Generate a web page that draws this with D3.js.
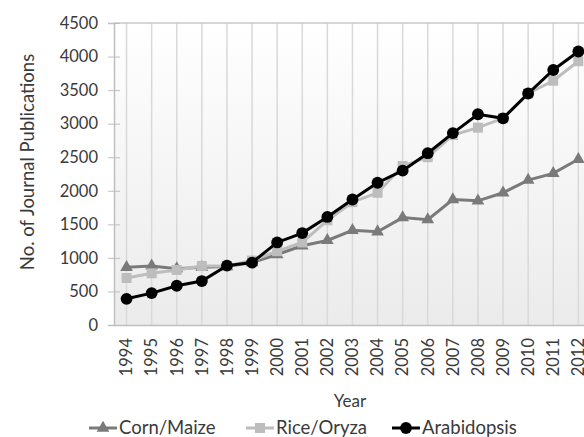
<!DOCTYPE html>
<html>
<head>
<meta charset="utf-8">
<script src="https://cdn.jsdelivr.net/npm/d3@7"></script>
<style>
  body { margin: 0; background: #fff; }
  text { font-family: Lato, "Open Sans", sans-serif; fill: #3a3a3a; }
</style>
</head>
<body>
<div id="chart"></div>
<script>
// values
var years = ["1994","1995","1996","1997","1998","1999","2000","2001","2002","2003",
             "2004","2005","2006","2007","2008","2009","2010","2011","2012"];
var corn = [860, 880, 840, 860, 870, 930, 1050, 1180, 1260, 1410, 1390, 1600, 1570, 1870, 1850, 1970, 2160, 2260, 2470];
var rice = [700, 770, 820, 880, 880, 960, 1100, 1230, 1560, 1830, 1970, 2370, 2500, 2830, 2940, 3080, 3450, 3640, 3930];
var arab = [390, 475, 585, 655, 885, 930, 1230, 1370, 1610, 1870, 2120, 2300, 2560, 2860, 3140, 3080, 3450, 3800, 4075];
var yTicks = [0, 500, 1000, 1500, 2000, 2500, 3000, 3500, 4000, 4500];

var width = 584, height = 437;
var margin = { left: 114, top: 23, bottom: 112 };
var plotH = height - margin.top - margin.bottom;
var step = 25.1;

var svg = d3.select("#chart").append("svg")
    .attr("width", width)
    .attr("height", height);

var x = d3.scaleBand()
    .domain(years)
    .range([margin.left, margin.left + step * years.length]);

var y = d3.scaleLinear()
    .domain([0, 4500])
    .range([margin.top + plotH, margin.top]);

// plot background gradient
var grad = svg.append("defs").append("linearGradient")
    .attr("id", "bg").attr("x1", 0).attr("y1", 0).attr("x2", 0).attr("y2", 1);
grad.append("stop").attr("offset", "0%").attr("stop-color", "#ffffff");
grad.append("stop").attr("offset", "100%").attr("stop-color", "#ebebeb");

svg.append("rect")
    .attr("x", margin.left)
    .attr("y", y(4500))
    .attr("width", width - margin.left)
    .attr("height", y(0) - y(4500))
    .attr("fill", "url(#bg)");

// vertical lines at each year
svg.selectAll(".vline")
    .data(years)
  .enter().append("line")
    .attr("x1", function(d) { return x(d) + x.bandwidth() / 2; })
    .attr("x2", function(d) { return x(d) + x.bandwidth() / 2; })
    .attr("y1", y(4500))
    .attr("y2", y(0))
    .attr("stroke", "#d9d9d9")
    .attr("stroke-width", 1.5);

// top line
svg.append("line")
    .attr("x1", margin.left).attr("x2", width)
    .attr("y1", y(4500)).attr("y2", y(4500))
    .attr("stroke", "#c8c8c8").attr("stroke-width", 1.5);

// y axis
var yAxis = svg.append("g")
    .attr("transform", "translate(" + margin.left + ",0)")
    .call(d3.axisLeft(y).tickValues(yTicks).tickFormat(d3.format("d")).tickSize(6).tickPadding(10));
yAxis.select(".domain").attr("stroke", "#bfbfbf").attr("stroke-width", 1.5);
yAxis.selectAll(".tick line").attr("stroke", "#bfbfbf").attr("x2", 6).attr("x1", -6);
yAxis.selectAll(".tick text")
    .style("font-size", "16.5px")
    .style("font-family", "Lato, sans-serif")
    .attr("fill", "#3a3a3a");

// x axis
var xAxis = svg.append("g")
    .attr("transform", "translate(0," + y(0) + ")")
    .call(d3.axisBottom(x).tickSize(0).tickPadding(0));
xAxis.select(".domain").attr("stroke", "#bfbfbf").attr("stroke-width", 1.5);
xAxis.selectAll(".tick text")
    .attr("transform", "rotate(-90)")
    .attr("x", -13)
    .attr("y", 0)
    .attr("dy", "0.35em")
    .style("text-anchor", "end")
    .style("font-size", "16.5px")
    .style("font-family", "Lato, sans-serif")
    .attr("fill", "#3a3a3a");

// axis titles
svg.append("text")
    .attr("transform", "translate(28,162) rotate(-90)")
    .attr("text-anchor", "middle")
    .attr("dy", "0.35em")
    .style("font-size", "18.5px")
    .text("No. of Journal Publications");

svg.append("text")
    .attr("x", 350)
    .attr("y", 407)
    .attr("text-anchor", "middle")
    .style("font-size", "17px")
    .text("Year");

var series = [
  { name: "Corn/Maize", values: corn, color: "#7a7a7a", shape: d3.symbolTriangle, size: 70 },
  { name: "Rice/Oryza", values: rice, color: "#bdbdbd", shape: d3.symbolSquare, size: 100 },
  { name: "Arabidopsis", values: arab, color: "#000000", shape: d3.symbolCircle, size: 110 }
];

var line = d3.line()
    .x(function(d, i) { return x(years[i]) + x.bandwidth() / 2; })
    .y(function(d) { return y(d); });

series.forEach(function(s) {
  svg.append("path")
      .datum(s.values)
      .attr("fill", "none")
      .attr("stroke", s.color)
      .attr("stroke-width", 3)
      .attr("d", line);

  svg.selectAll(".pt-" + s.name.replace("/", ""))
      .data(s.values)
    .enter().append("path")
      .attr("transform", function(d, i) {
        return "translate(" + (x(years[i]) + x.bandwidth() / 2) + "," + y(d) + ")";
      })
      .attr("d", d3.symbol().type(s.shape).size(s.size))
      .attr("fill", s.color);
});

// legend
var legendX = [89, 246, 392];
var legend = svg.selectAll(".legend")
    .data(series)
  .enter().append("g")
    .attr("transform", function(d, i) { return "translate(" + legendX[i] + ",428)"; });

legend.append("line")
    .attr("x1", 0).attr("x2", 28)
    .attr("stroke", function(d) { return d.color; })
    .attr("stroke-width", 3);
legend.append("path")
    .attr("transform", "translate(14,0)")
    .attr("d", function(d) { return d3.symbol().type(d.shape).size(d.size)(); })
    .attr("fill", function(d) { return d.color; });
legend.append("text")
    .attr("x", 30)
    .attr("dy", "0.35em")
    .style("font-size", "18.5px")
    .text(function(d) { return d.name; });
</script>
</body>
</html>
